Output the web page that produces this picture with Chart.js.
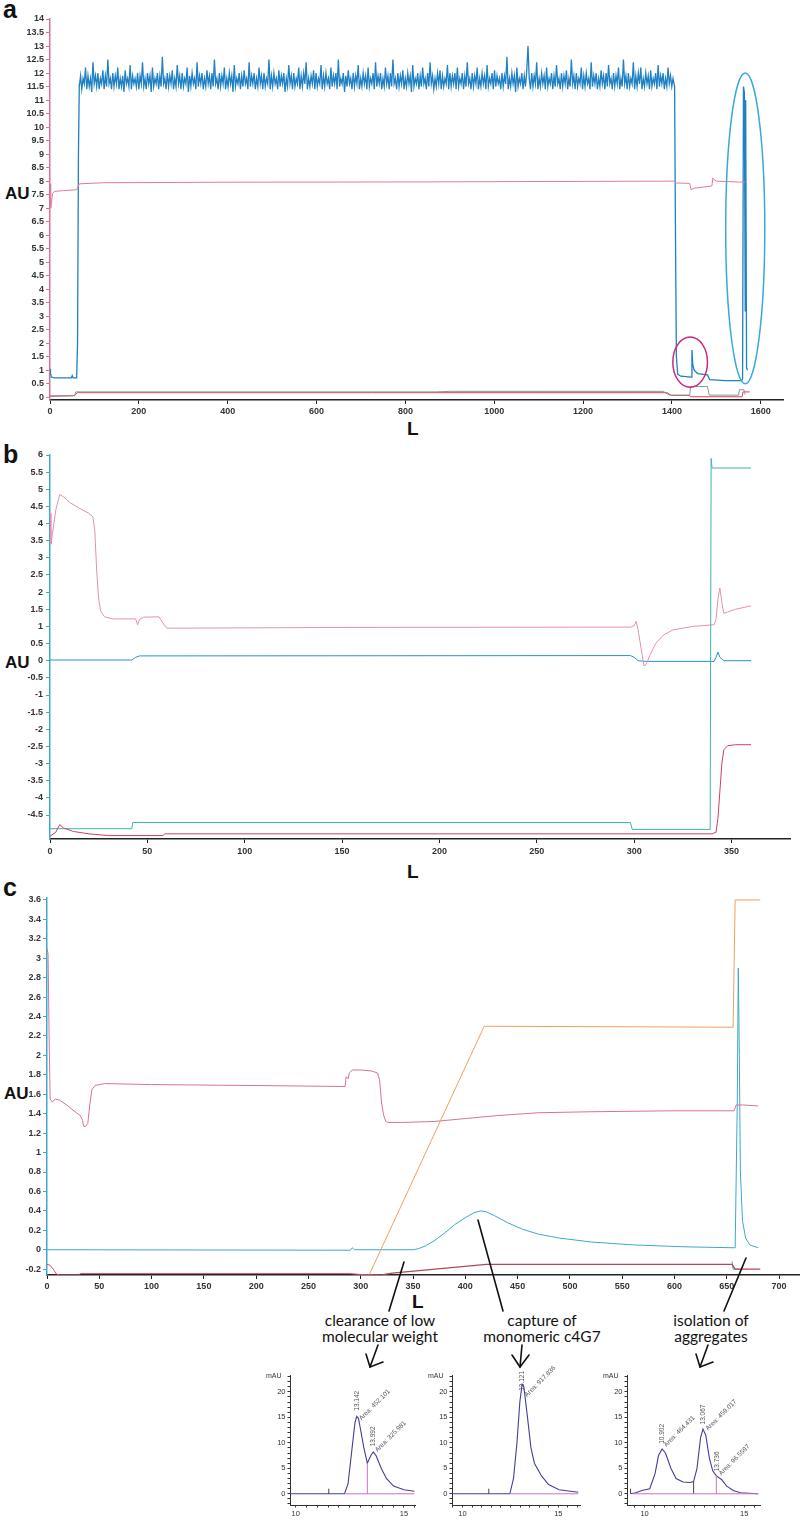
<!DOCTYPE html>
<html>
<head>
<meta charset="utf-8">
<script src="https://cdn.jsdelivr.net/npm/chart.js@4.4.0/dist/chart.umd.min.js"></script>
<style>
body { margin: 0; background: #fff; width: 800px; height: 1523px; position: relative; overflow: hidden; font-family: "Liberation Sans", Arial, sans-serif; }
canvas { position: absolute; }
.lbl { position: absolute; font-weight: bold; color: #111; line-height: 1; white-space: nowrap; }
.panel { font-size: 25px; }
.au { font-size: 17px; }
.ll { font-size: 19px; }
.mau { position: absolute; font-size: 7px; color: #333; }
.note { position: absolute; font-family: Lato, "Open Sans", sans-serif; font-weight: 400; font-size: 15.5px; line-height: 16px; text-align: center; color: #111; transform: translateX(-50%); white-space: nowrap; }
svg { position: absolute; left: 0; top: 0; }
</style>
</head>
<body>
<div class="lbl panel" style="left:3px;top:-3px">a</div>
<div class="lbl panel" style="left:3px;top:442px">b</div>
<div class="lbl panel" style="left:3px;top:875px">c</div>
<div class="lbl au" style="left:5px;top:185px">AU</div>
<div class="lbl au" style="left:5px;top:654px">AU</div>
<div class="lbl au" style="left:4px;top:1085px">AU</div>
<div class="lbl ll" style="left:407px;top:419px">L</div>
<div class="lbl ll" style="left:407px;top:862px">L</div>
<div class="lbl ll" style="left:412px;top:1292px">L</div>

<canvas id="chartA"></canvas>
<canvas id="chartB"></canvas>
<canvas id="chartC"></canvas>
<canvas id="inset1"></canvas>
<canvas id="inset2"></canvas>
<canvas id="inset3"></canvas>

<div class="mau" style="left:266px;top:1372px">mAU</div>
<div class="mau" style="left:428px;top:1372px">mAU</div>
<div class="mau" style="left:603px;top:1372px">mAU</div>

<div class="note" style="left:380px;top:1312px">clearance of low<br>molecular weight</div>
<div class="note" style="left:542px;top:1312px">capture of<br>monomeric c4G7</div>
<div class="note" style="left:711px;top:1312px">isolation of<br>aggregates</div>

<svg width="800" height="1523">
  <g stroke="#111" stroke-width="1.6" fill="none" stroke-linecap="round">
    <line x1="404" y1="1262" x2="389" y2="1311"/>
    <line x1="478" y1="1220" x2="503" y2="1311"/>
    <line x1="746" y1="1258" x2="724" y2="1311"/>
    <polyline points="378,1345 370,1367"/>
    <polyline points="366,1354 370,1367 383,1362"/>
    <polyline points="522,1345 520,1367"/>
    <polyline points="512,1355 520,1367 529,1355"/>
    <polyline points="708,1345 700,1367"/>
    <polyline points="696,1354 700,1367 713,1362"/>
  </g>
</svg>

<script>
// ---- panel a: [L, AU] ----
const aBlueHead = [[0, 1.05], [1, 0.9], [3, 0.75], [10, 0.72], [48, 0.72], [50, 0.8], [52, 0.72], [60, 0.72], [62, 2], [64, 9], [66, 11.6]];
const aNoiseStart = 66, aNoiseStep = 2.79;
const aBlueNoise = [
  11.5, 11.9, 11.4, 11.8, 11.6, 12.2, 11.4, 11.9, 11.5, 11.8, 11.3, 12.4, 11.6, 11.9, 11.5, 12.0, 11.4, 11.8, 11.6, 12.1,
  11.4, 11.9, 11.5, 12.5, 11.6, 11.8, 11.4, 12.0, 11.5, 11.9, 11.6, 12.2, 11.4, 11.8, 11.5, 11.9, 11.3, 12.1, 11.6, 11.8,
  11.5, 12.3, 11.4, 11.9, 11.6, 11.8, 11.5, 12.0, 11.4, 11.9, 11.6, 12.4, 11.5, 11.8, 11.4, 12.0, 11.6, 11.9, 11.3, 12.2,
  11.5, 11.8, 11.6, 12.0, 11.4, 11.9, 11.5, 12.6, 11.6, 11.8, 11.4, 12.0, 11.5, 11.9, 11.6, 12.1, 11.4, 11.8, 11.5, 12.3,
  11.6, 11.9, 11.4, 12.0, 11.5, 11.8, 11.6, 12.2, 11.3, 11.9, 11.5, 12.0, 11.6, 11.8, 11.4, 12.4, 11.5, 11.9, 11.6, 12.0,
  11.4, 11.8, 11.5, 12.1, 11.6, 11.9, 11.4, 12.0, 11.5, 12.5, 11.6, 11.8, 11.4, 12.0, 11.5, 11.9, 11.6, 12.2, 11.4, 11.8,
  11.5, 12.0, 11.6, 11.9, 11.3, 12.3, 11.5, 11.8, 11.6, 12.0, 11.4, 11.9, 11.5, 12.1, 11.6, 11.8, 11.4, 12.4, 11.5, 11.9,
  11.6, 12.0, 11.4, 11.8, 11.5, 12.2, 11.6, 11.9, 11.4, 12.0, 11.5, 11.8, 11.6, 12.5, 11.4, 11.9, 11.5, 12.0, 11.6, 11.8,
  11.4, 12.1, 11.5, 11.9, 11.6, 12.0, 11.3, 11.8, 11.5, 12.3, 11.6, 11.9, 11.4, 12.0, 11.5, 11.8, 11.6, 12.2, 11.4, 11.9,
  11.5, 12.0, 11.6, 12.4, 11.4, 11.8, 11.5, 11.9, 11.6, 12.1, 11.4, 12.0, 11.5, 11.8, 11.6, 12.3, 11.4, 11.9, 11.5, 12.0,
  11.6, 11.8, 11.4, 12.2, 11.5, 11.9, 11.6, 12.0, 11.4, 12.5, 11.5, 11.8, 11.6, 12.0, 11.3, 11.9, 11.5, 12.1, 11.6, 11.8,
  11.4, 12.0, 11.5, 11.9, 11.6, 12.3, 11.4, 11.8, 11.5, 12.0, 11.6, 11.9, 11.4, 12.2, 11.5, 11.8, 11.6, 12.0, 11.4, 12.4,
  11.5, 11.9, 11.6, 12.0, 11.4, 11.8, 11.5, 12.2, 11.6, 11.9, 11.4, 12.0, 11.5, 12.5, 11.6, 11.8, 11.4, 12.0, 11.5, 11.9,
  11.6, 12.1, 11.4, 11.8, 11.5, 12.0, 11.6, 11.9, 11.3, 12.3, 11.5, 11.8, 11.6, 12.0, 11.4, 11.9, 11.5, 12.2, 11.6, 11.8,
  11.4, 12.0, 11.5, 12.4, 11.6, 11.9, 11.4, 11.8, 11.5, 12.0, 11.6, 12.1, 11.4, 11.9, 11.5, 11.8, 11.6, 12.3, 11.4, 12.0,
  11.5, 11.9, 11.6, 12.0, 11.4, 12.2, 11.5, 11.8, 11.6, 12.0, 11.4, 11.9, 11.5, 12.4, 11.6, 11.8, 11.4, 12.0, 11.5, 11.9,
  11.6, 12.2, 11.4, 11.8, 11.5, 12.0, 11.6, 11.9, 11.4, 12.3, 11.5, 11.8, 11.6, 12.0, 11.4, 12.1, 11.5, 11.9, 11.6, 11.8,
  11.4, 12.0, 11.5, 11.9, 11.6, 12.6, 11.4, 11.8, 11.5, 12.0, 11.6, 11.9, 11.3, 12.2, 11.5, 11.8, 11.6, 12.0, 11.4, 11.9,
  11.5, 12.1, 13.0, 11.8, 11.4, 12.0, 11.5, 11.9, 11.6, 12.4, 11.4, 11.8, 11.5, 12.0, 11.6, 11.9, 11.4, 12.2, 11.5, 11.8,
  11.6, 12.0, 11.4, 11.9, 11.5, 12.3, 11.6, 11.8, 11.4, 12.0, 11.5, 11.9, 11.6, 12.1, 11.4, 11.8, 11.5, 12.5, 11.6, 11.9,
  11.4, 12.0, 11.5, 11.8, 11.6, 12.2, 11.4, 11.9, 11.5, 12.0, 11.6, 11.8, 11.4, 12.4, 11.5, 11.9, 11.6, 12.0, 11.4, 11.8,
  11.5, 12.1, 11.6, 11.9, 11.4, 12.0, 11.5, 12.3, 11.6, 11.8, 11.4, 12.0, 11.5, 11.9, 11.6, 12.2, 11.4, 11.8, 11.5, 12.5,
  11.6, 11.9, 11.4, 12.0, 11.5, 11.8, 11.6, 12.4, 11.4, 11.9, 11.5, 12.0, 11.6, 12.2, 11.4, 11.8, 11.5, 12.0, 11.6, 11.9,
  11.4, 12.1, 11.5, 11.8, 11.6, 12.0, 11.4, 12.3, 11.5, 11.9, 11.6, 12.0, 11.4, 11.8, 11.5, 12.2, 11.6, 11.9, 11.5, 11.8
];
const aBlueTail = [[1406, 11.5], [1408, 6], [1410, 1.5], [1413, 0.85], [1420, 0.78], [1443, 0.75], [1445, 1.75], [1447, 1.2],
  [1450, 1.0], [1458, 0.88], [1480, 0.83], [1485, 0.65], [1520, 0.62], [1557, 0.62], [1559, 0.7], [1561, 11.5], [1563, 11.3],
  [1565, 3.2], [1566, 11.0], [1568, 1.1], [1570, 1.0]];
const aPink = [[0, 7.9], [1, 7.4], [2, 7.0], [4, 7.3], [6, 7.55], [10, 7.62], [30, 7.65], [60, 7.68], [62, 7.75], [66, 7.9],
  [120, 7.94], [400, 7.96], [800, 7.97], [1000, 7.98], [1200, 7.99], [1380, 8.0], [1405, 8.0], [1410, 7.93], [1440, 7.92],
  [1443, 7.68], [1450, 7.74], [1480, 7.8], [1490, 7.82], [1492, 8.12], [1495, 8.05], [1500, 8.0], [1560, 7.96], [1565, 7.96]];
const aRedLow = [[0, 0.05], [55, 0.06], [62, 0.17], [1390, 0.17], [1398, 0.07], [1440, 0.07], [1442, 0.02], [1558, 0.02],
  [1560, 0.2], [1575, 0.2]];
const aGrayLow = [[0, 0.03], [55, 0.06], [58, 0.2], [870, 0.2], [900, 0.22], [1380, 0.22], [1395, 0.08], [1440, 0.08],
  [1442, 0.4], [1480, 0.4], [1484, 0.08], [1550, 0.08], [1552, 0.28], [1562, 0.28], [1565, 0.1]];
const aRings = [
  { l: 1441, au: 1.3, dl: 39, dau: 0.93, color: '#c8287e' },
  { l: 1565, au: 6.25, dl: 44, dau: 5.75, color: '#3aa8d8' }
];
const aXTicks = [0, 200, 400, 600, 800, 1000, 1200, 1400, 1600];
const aYTicks = [0, 0.5, 1, 1.5, 2, 2.5, 3, 3.5, 4, 4.5, 5, 5.5, 6, 6.5, 7, 7.5, 8, 8.5, 9, 9.5, 10, 10.5, 11, 11.5, 12, 12.5, 13, 13.5, 14];

// ---- panel b ----
const bPink = [[0, 4.3], [0.5, 3.4], [1, 3.6], [3, 4.4], [5, 4.85], [7, 4.78], [10, 4.62], [15, 4.45], [20, 4.3], [22, 4.2],
  [23, 3.8], [24, 2.6], [25, 1.8], [26, 1.45], [28, 1.28], [32, 1.22], [44, 1.22], [45, 1.05], [46, 1.2], [48, 1.27], [56, 1.28],
  [58, 1.1], [60, 0.95], [65, 0.95], [150, 0.97], [298, 0.98], [300, 1.02], [301, 1.15], [302, 0.9], [304, 0.2], [305, -0.15],
  [306, -0.12], [308, 0.15], [311, 0.5], [315, 0.75], [320, 0.9], [330, 1.0], [341, 1.05], [342, 1.2], [343, 1.8], [344, 2.12],
  [345, 1.7], [346, 1.38], [348, 1.42], [352, 1.5], [360, 1.6]];
const bBlue = [[0, 0.02], [42, 0.02], [44, 0.1], [46, 0.14], [298, 0.15], [300, 0.1], [302, 0.0], [306, -0.02], [341, -0.02],
  [342, 0.1], [343, 0.25], [344, 0.1], [346, 0.0], [360, 0.0]];
const bTeal = [[0, -4.9], [42, -4.9], [42.5, -4.72], [298, -4.72], [299, -4.92], [339, -4.92], [339.5, 5.9], [340, 5.62],
  [360, 5.62]];
const bRed = [[0, -5.12], [3, -5.0], [5, -4.78], [7, -4.88], [12, -4.98], [20, -5.05], [30, -5.1], [58, -5.1], [59, -5.05],
  [340, -5.05], [342, -5.0], [343, -4.6], [344, -3.8], [345, -3.0], [346, -2.6], [348, -2.48], [352, -2.45], [360, -2.45]];
const bXTicks = [0, 50, 100, 150, 200, 250, 300, 350];
const bYTicks = [6, 5.5, 5, 4.5, 4, 3.5, 3, 2.5, 2, 1.5, 1, 0.5, 0, -0.5, -1, -1.5, -2, -2.5, -3, -3.5, -4, -4.5];

// ---- panel c ----
const cPink = [[0, 3.1], [1, 3.05], [2, 2.2], [3, 1.55], [5, 1.52], [8, 1.55], [12, 1.54], [20, 1.48], [28, 1.41], [32, 1.38],
  [34, 1.33], [35, 1.27], [37, 1.27], [39, 1.3], [41, 1.5], [43, 1.65], [46, 1.69], [55, 1.71], [100, 1.7], [200, 1.69],
  [285, 1.68], [286, 1.78], [288, 1.76], [289, 1.82], [292, 1.85], [300, 1.85], [310, 1.84], [316, 1.82], [318, 1.75],
  [320, 1.5], [322, 1.38], [324, 1.32], [326, 1.31], [340, 1.31], [370, 1.32], [400, 1.35], [430, 1.38], [470, 1.41],
  [520, 1.42], [600, 1.43], [657, 1.43], [659, 1.49], [665, 1.49], [680, 1.48]];
const cBlue = [[0, 0], [290, -0.005], [292, 0.02], [294, 0], [350, 0], [355, 0.01], [362, 0.04], [370, 0.09], [380, 0.17],
  [390, 0.26], [400, 0.33], [408, 0.38], [415, 0.4], [420, 0.39], [428, 0.35], [440, 0.28], [455, 0.21], [470, 0.16],
  [490, 0.12], [520, 0.08], [560, 0.05], [610, 0.03], [658, 0.02], [660, 1.5], [661, 2.9], [662, 2.0], [663, 0.8], [665, 0.3],
  [668, 0.12], [672, 0.05], [680, 0.02]];
const cOrange = [[305, -0.27], [308, -0.26], [418, 2.3], [656, 2.29], [658, 3.6], [682, 3.6]];
const cRed = [[0, -0.15], [3, -0.16], [6, -0.2], [9, -0.25], [12, -0.26], [30, -0.26], [32, -0.245], [290, -0.245],
  [300, -0.255], [320, -0.26]];
const cMaroon = [[320, -0.26], [330, -0.24], [420, -0.15], [655, -0.15], [658, -0.2], [682, -0.2]];
const cTeal = [[655, -0.12], [656, -0.2], [662, -0.2]];
const cXTicks = [0, 50, 100, 150, 200, 250, 300, 350, 400, 450, 500, 550, 600, 650, 700];
const cYTicks = [3.6, 3.4, 3.2, 3, 2.8, 2.6, 2.4, 2.2, 2, 1.8, 1.6, 1.4, 1.2, 1, 0.8, 0.6, 0.4, 0.2, 0, -0.2];

// ---- insets: [min, mAU] ----
const in1Trace = [[9.74, 0], [12.26, 0], [12.42, 2], [12.58, 8], [12.74, 14], [12.82, 15.2], [12.9, 14.8], [12.98, 13],
  [13.15, 9], [13.31, 6], [13.47, 7.5], [13.58, 8.2], [13.71, 7.5], [13.95, 5], [14.19, 3], [14.52, 1.5], [15.0, 0.8], [15.48, 0.5]];
const in2Trace = [[9.45, 0], [12.47, 0], [12.66, 3], [12.84, 10], [12.99, 18], [13.11, 21.5], [13.2, 21], [13.39, 15],
  [13.57, 9], [13.75, 6], [14.12, 3.5], [14.49, 1.8], [15.04, 0.8], [16.04, 0.3]];
const in3Trace = [[9.3, 0], [9.56, 0.2], [9.91, 0.7], [10.26, 1], [10.53, 4], [10.7, 7.5], [10.88, 8.8], [11.05, 8], [11.32, 5],
  [11.58, 3], [11.93, 2.3], [12.28, 2.2], [12.46, 2.4], [12.63, 5], [12.81, 11], [12.93, 12.7], [13.07, 11.5], [13.25, 7],
  [13.42, 4.5], [13.6, 3.5], [13.86, 2.8], [14.12, 1.5], [14.47, 0.6], [14.82, 0.2], [15.7, 0]];
const in1Base = [[12.3, 0], [15.48, 0]];
const in2Base = [[12.5, 0], [16.04, 0]];
const in3Base = [[9.4, 0], [15.7, 0]];
const in1Drops = [[[13.31, 0], [13.31, 6]]];
const in3Drops = [[[13.6, 0], [13.6, 3.5]]];
const in3Splits = [[[12.46, 0], [12.46, 2.4]]];
const in1Inject = [[11.53, 0], [11.53, 1]];
const in2Inject = [[11.37, 0], [11.37, 1]];
const in3Inject = [[9.3, 0], [9.3, 1]];
const in1Notes = [['13.142', 12.82, 16.3, 90], ['Area: 452.101', 12.98, 14.6, 45], ['13.992', 13.58, 9.3, 90], ['Area: 325.981', 13.72, 8.4, 45]];
const in2Notes = [['13.121', 13.11, 20.2, 90], ['Area: 917.836', 13.3, 19.2, 45]];
const in3Notes = [['10.902', 10.88, 9.8, 90], ['Area: 464.431', 11.02, 9.4, 45], ['13.067', 12.93, 13.6, 90],
  ['Area: 459.017', 13.12, 12.6, 45], ['13.736', 13.62, 4.4, 90], ['Area: 96.5597', 13.78, 3.8, 45]];
const inXTicks = [9.5, 10, 10.5, 11, 11.5, 12, 12.5, 13, 13.5, 14, 14.5, 15, 15.5, 16];
const inYTicks = [-2, -1, 0, 1, 2, 3, 4, 5, 6, 7, 8, 9, 10, 11, 12, 13, 14, 15, 16, 17, 18, 19, 20, 21, 22, 23];

// HELPERS
const pts = arr => arr.map(p => ({ x: p[0], y: p[1] }));
const line = (arr, color, w) => ({ data: pts(arr), borderColor: color, borderWidth: w || 1, pointRadius: 0, showLine: true, fill: false, tension: 0 });

const mainFont = { family: 'Liberation Sans', size: 9, weight: 'bold' };
const insetFont = { family: 'Liberation Sans', size: 7.5 };

function build(id, box, plot, xr, yr, sets, opt) {
    const cv = document.getElementById(id);
    cv.width = box.w;
    cv.height = box.h;
    cv.style.left = box.l + 'px';
    cv.style.top = box.t + 'px';
    return new Chart(cv, {
        type: 'scatter',
        data: { datasets: sets },
        options: {
            responsive: false,
            animation: false,
            events: [],
            layout: { padding: { left: 0, top: plot.t - box.t, right: box.l + box.w - plot.r, bottom: 0 } },
            plugins: { legend: { display: false }, tooltip: { enabled: false } },
            scales: {
                x: {
                    type: 'linear', min: xr.min, max: xr.max,
                    afterBuildTicks: s => { s.ticks = xr.ticks.filter(v => v >= s.min && v <= s.max).map(v => ({ value: v })); },
                    afterFit: s => { s.height = box.t + box.h - plot.b; },
                    grid: { drawOnChartArea: false, tickLength: opt.tick, color: opt.xColor },
                    border: { color: opt.xColor, width: opt.xWidth },
                    ticks: { font: opt.font, color: opt.tickColor, padding: opt.pad, maxRotation: 0, autoSkip: false, callback: xr.show }
                },
                y: {
                    type: 'linear', min: yr.min, max: yr.max,
                    afterBuildTicks: s => { s.ticks = yr.ticks.filter(v => v >= s.min && v <= s.max).map(v => ({ value: v })); },
                    afterFit: s => { s.width = plot.l - box.l; },
                    grid: { drawOnChartArea: false, tickLength: opt.tick, color: opt.yColor },
                    border: { color: opt.yColor, width: opt.yWidth },
                    ticks: { font: opt.font, color: opt.tickColor, padding: opt.pad, autoSkip: false, callback: yr.show }
                }
            }
        },
        plugins: opt.plugins || []
    });
}

// ellipse rings on panel a, placed in data units
const ringPlugin = {
    id: 'rings',
    afterDatasetsDraw(chart) {
        const { ctx, scales: { x, y } } = chart;
        aRings.forEach(r => {
            const cx = x.getPixelForValue(r.l), cy = y.getPixelForValue(r.au);
            const rx = Math.abs(x.getPixelForValue(r.l + r.dl) - cx);
            const ry = Math.abs(y.getPixelForValue(r.au + r.dau) - cy);
            ctx.save();
            ctx.beginPath();
            ctx.ellipse(cx, cy, rx, ry, 0, 0, Math.PI * 2);
            ctx.strokeStyle = r.color;
            ctx.lineWidth = 1.5;
            ctx.stroke();
            ctx.restore();
        });
    }
};

// peak labels on the insets
const notePlugin = notes => ({
    id: 'notes',
    afterDatasetsDraw(chart) {
        const { ctx, scales: { x, y } } = chart;
        ctx.save();
        ctx.font = '6.5px "Liberation Sans"';
        ctx.fillStyle = '#555';
        ctx.textAlign = 'left';
        ctx.textBaseline = 'middle';
        notes.forEach(n => {
            ctx.save();
            ctx.translate(x.getPixelForValue(n[1]), y.getPixelForValue(n[2]));
            ctx.rotate(-n[3] * Math.PI / 180);
            ctx.fillText(n[0], 0, 0);
            ctx.restore();
        });
        ctx.restore();
    }
});

const plain = v => String(v);

// PANEL A
const aBlue = [...aBlueHead, ...aBlueNoise.map((v, i) => [aNoiseStart + i * aNoiseStep, v]), ...aBlueTail];
build('chartA', { l: 0, t: 0, w: 800, h: 440 }, { l: 50, r: 783, t: 19, b: 400 },
    { min: 0, max: 1650, ticks: aXTicks, show: plain },
    { min: -0.1, max: 14, ticks: aYTicks, show: plain },
    [line(aGrayLow, '#7f9c8c'), line(aRedLow, '#e03a5c'), line(aPink, '#e27a98'), line(aBlue, '#1f80c4', 1.3)],
    { font: mainFont, tickColor: '#333', pad: 2, tick: 4, xColor: '#222', xWidth: 1.5, yColor: '#e0709a', yWidth: 1.5, plugins: [ringPlugin] });

// PANEL B
build('chartB', { l: 0, t: 430, w: 800, h: 445 }, { l: 50, r: 790, t: 455, b: 839 },
    { min: 0, max: 380, ticks: bXTicks, show: plain },
    { min: -5.2, max: 6, ticks: bYTicks, show: plain },
    [line(bRed, '#d23e60'), line(bTeal, '#3fb3b0'), line(bPink, '#e690b0'), line(bBlue, '#2b8fd0')],
    { font: mainFont, tickColor: '#333', pad: 3, tick: 4, xColor: '#222', xWidth: 1.5, yColor: '#3aaccc', yWidth: 1.5 });

// PANEL C
build('chartC', { l: 0, t: 860, w: 800, h: 440 }, { l: 47, r: 800, t: 898, b: 1275 },
    { min: 0, max: 720, ticks: cXTicks, show: plain },
    { min: -0.26, max: 3.62, ticks: cYTicks, show: plain },
    [line(cRed, '#e0506e'), line(cMaroon, '#b04a5a', 1.3), line(cTeal, '#4fb0b8'), line(cOrange, '#f0a060'),
     line(cPink, '#d8709c'), line(cBlue, '#3aa8d0')],
    { font: mainFont, tickColor: '#333', pad: 2, tick: 4, xColor: '#222', xWidth: 1.5, yColor: '#40a8d0', yWidth: 1.5 });

// INSETS
const inYShow = v => (v % 5 === 0 ? String(v) : '');
const inXShow = v => (v === 10 || v === 15 ? String(v) : '');
const inOpt = extra => ({ font: insetFont, tickColor: '#333', pad: 2, tick: 2.5, xColor: '#333', xWidth: 1, yColor: '#333', yWidth: 1, plugins: [extra] });
const trace = arr => line(arr, '#40409a', 1.1);
const pinkLine = arr => line(arr, '#d070c0', 1);
const darkLine = arr => line(arr, '#444', 1);

build('inset1', { l: 250, t: 1360, w: 180, h: 163 }, { l: 290, r: 415, t: 1375, b: 1505 },
    { min: 9.74, max: 15.51, ticks: inXTicks, show: inXShow },
    { min: -2.2, max: 23.3, ticks: inYTicks, show: inYShow },
    [pinkLine(in1Base), ...in1Drops.map(pinkLine), darkLine(in1Inject), trace(in1Trace)],
    inOpt(notePlugin(in1Notes)));

build('inset2', { l: 420, t: 1360, w: 170, h: 163 }, { l: 452, r: 580, t: 1375, b: 1505 },
    { min: 9.45, max: 16.13, ticks: inXTicks, show: inXShow },
    { min: -2.2, max: 23.3, ticks: inYTicks, show: inYShow },
    [pinkLine(in2Base), darkLine(in2Inject), trace(in2Trace)],
    inOpt(notePlugin(in2Notes)));

build('inset3', { l: 595, t: 1360, w: 175, h: 163 }, { l: 627, r: 760, t: 1375, b: 1505 },
    { min: 9.12, max: 15.79, ticks: inXTicks, show: inXShow },
    { min: -2.2, max: 23.3, ticks: inYTicks, show: inYShow },
    [pinkLine(in3Base), ...in3Drops.map(pinkLine), ...in3Splits.map(darkLine), darkLine(in3Inject), trace(in3Trace)],
    inOpt(notePlugin(in3Notes)));
</script>
</body>
</html>
